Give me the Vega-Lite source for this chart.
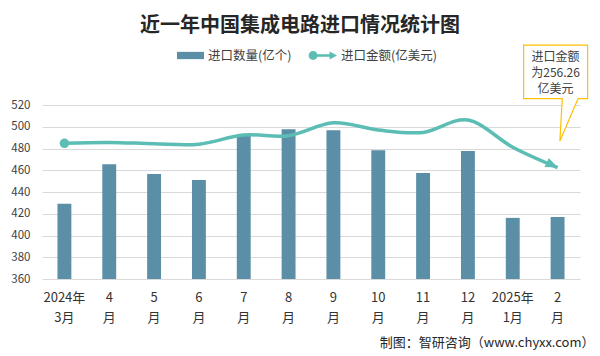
{
  "$schema": "https://vega.github.io/schema/vega-lite/v6.json",
  "width": 538,
  "height": 174,
  "autosize": {"type": "none"},
  "padding": {"left": 42, "top": 105, "right": 20, "bottom": 77},
  "background": "white",
  "config": {"font": "Noto Sans CJK SC", "view": {"stroke": null}},
  "title": {
    "text": "近一年中国集成电路进口情况统计图",
    "fontSize": 20,
    "fontWeight": "bold",
    "color": "#262626",
    "anchor": "middle",
    "frame": "group",
    "dx": -11,
    "offset": 6
  },
  "data": {
    "values": [
      {"month": "2024年3月", "qty": 429.2, "value": 312},
      {"month": "2024年4月", "qty": 465.6, "value": 314},
      {"month": "2024年5月", "qty": 456.6, "value": 311},
      {"month": "2024年6月", "qty": 451, "value": 310},
      {"month": "2024年7月", "qty": 492, "value": 331},
      {"month": "2024年8月", "qty": 497.8, "value": 329.5},
      {"month": "2024年9月", "qty": 496.8, "value": 359},
      {"month": "2024年10月", "qty": 478.5, "value": 342.5},
      {"month": "2024年11月", "qty": 457.5, "value": 337},
      {"month": "2024年12月", "qty": 477.6, "value": 365.5},
      {"month": "2025年1月", "qty": 416.2, "value": 303},
      {"month": "2025年2月", "qty": 417.1, "value": 256.26}
    ]
  },
  "encoding": {
    "x": {
      "field": "month",
      "type": "nominal",
      "sort": null,
      "scale": {"paddingInner": 0.69, "paddingOuter": 0.345},
      "axis": {
        "labelAngle": 0,
        "ticks": false,
        "domain": false,
        "labelFontSize": 13,
        "labelLineHeight": 20,
        "labelPadding": 12,
        "labelColor": "#333333",
        "labelExpr": "datum.value == '2024年3月' || datum.value == '2025年1月' ? [slice(datum.value, 0, 5), slice(datum.value, 5)] : [replace(slice(datum.value, 5), '月', ''), '月']",
        "title": "制图：智研咨询（www.chyxx.com）",
        "titleX": 552,
        "titleY": 63,
        "titleAlign": "right",
        "titleBaseline": "middle",
        "titleFontSize": 13,
        "titleFontWeight": "normal",
        "titleColor": "#262626"
      }
    }
  },
  "layer": [
    {
      "mark": {"type": "bar"},
      "encoding": {
        "y": {
          "field": "qty",
          "type": "quantitative",
          "scale": {"domain": [360, 520], "zero": false, "nice": false},
          "axis": {
            "title": null,
            "values": [360, 380, 400, 420, 440, 460, 480, 500, 520],
            "grid": true,
            "gridColor": "#d9d9d9",
            "domain": false,
            "ticks": false,
            "labelPadding": 12,
            "labelFontSize": 11.5,
            "labelColor": "#404040"
          }
        },
        "y2": {"datum": 360},
        "color": {
          "datum": "进口数量(亿个)",
          "type": "nominal",
          "scale": {
            "domain": ["进口数量(亿个)", "进口金额(亿美元)"],
            "range": ["#5B8FA7", "#5BBDB4"]
          },
          "legend": {
            "title": null,
            "orient": "none",
            "direction": "horizontal",
            "legendX": 135,
            "legendY": -63,
            "padding": 0,
            "symbolSize": 729,
            "labelOffset": 4,
            "columnPadding": 16,
            "labelFontSize": 12.5,
            "labelColor": "#404040",
            "encode": {
              "symbols": {
                "update": {
                  "shape": {"signal": "datum.value === '进口数量(亿个)' ? 'M-1,-0.27H1V0.27H-1Z' : 'M-1.1,0A0.33,0.33 0 1,1 -0.44,0A0.33,0.33 0 1,1 -1.1,0Z M-0.6,-0.09H0.55V0.09H-0.6Z M0.45,-0.3L1,0L0.45,0.3Z'"},
                  "fill": {"signal": "scale('color', datum.value)"},
                  "stroke": {"value": "transparent"},
                  "strokeWidth": {"value": 0},
                  "opacity": {"value": 1}
                }
              }
            }
          }
        }
      }
    },
    {
      "encoding": {
        "y": {
          "field": "value",
          "type": "quantitative",
          "scale": {"domain": [0, 400], "nice": false},
          "axis": null
        }
      },
      "layer": [
        {
          "mark": {"type": "line", "strokeWidth": 3.5, "interpolate": "cardinal"},
          "encoding": {"color": {"datum": "进口金额(亿美元)", "type": "nominal"}}
        },
        {
          "transform": [{"filter": "datum.month == '2024年3月'"}],
          "mark": {"type": "point", "filled": true, "size": 90, "color": "#5BBDB4", "opacity": 1}
        },
        {
          "transform": [{"filter": "datum.month == '2025年2月'"}],
          "mark": {"type": "point", "filled": true, "size": 576, "angle": 25, "shape": "M0,0L-1,-0.42L-1,0.42Z", "color": "#5BBDB4", "opacity": 1}
        },
        {
          "transform": [{"filter": "datum.month == '2025年2月'"}],
          "mark": {"type": "point", "filled": false, "size": 4, "shape": "M-34,-122.5H30V-69H20.5L2.3,-26.5L4.7,-69H-34Z", "fill": "white", "fillOpacity": 1, "stroke": "#FFC000", "strokeWidth": 1.2, "opacity": 1}
        },
        {
          "transform": [
            {"filter": "datum.month == '2025年2月'"},
            {"calculate": "['进口金额', '为' + format(datum.value, '.2f'), '亿美元']", "as": "note"}
          ],
          "mark": {"type": "text", "fontSize": 12, "lineHeight": 16, "baseline": "middle", "align": "center", "dx": -2, "dy": -110.5, "color": "#404040"},
          "encoding": {"text": {"field": "note"}}
        }
      ]
    }
  ],
  "resolve": {"scale": {"y": "independent"}}
}
